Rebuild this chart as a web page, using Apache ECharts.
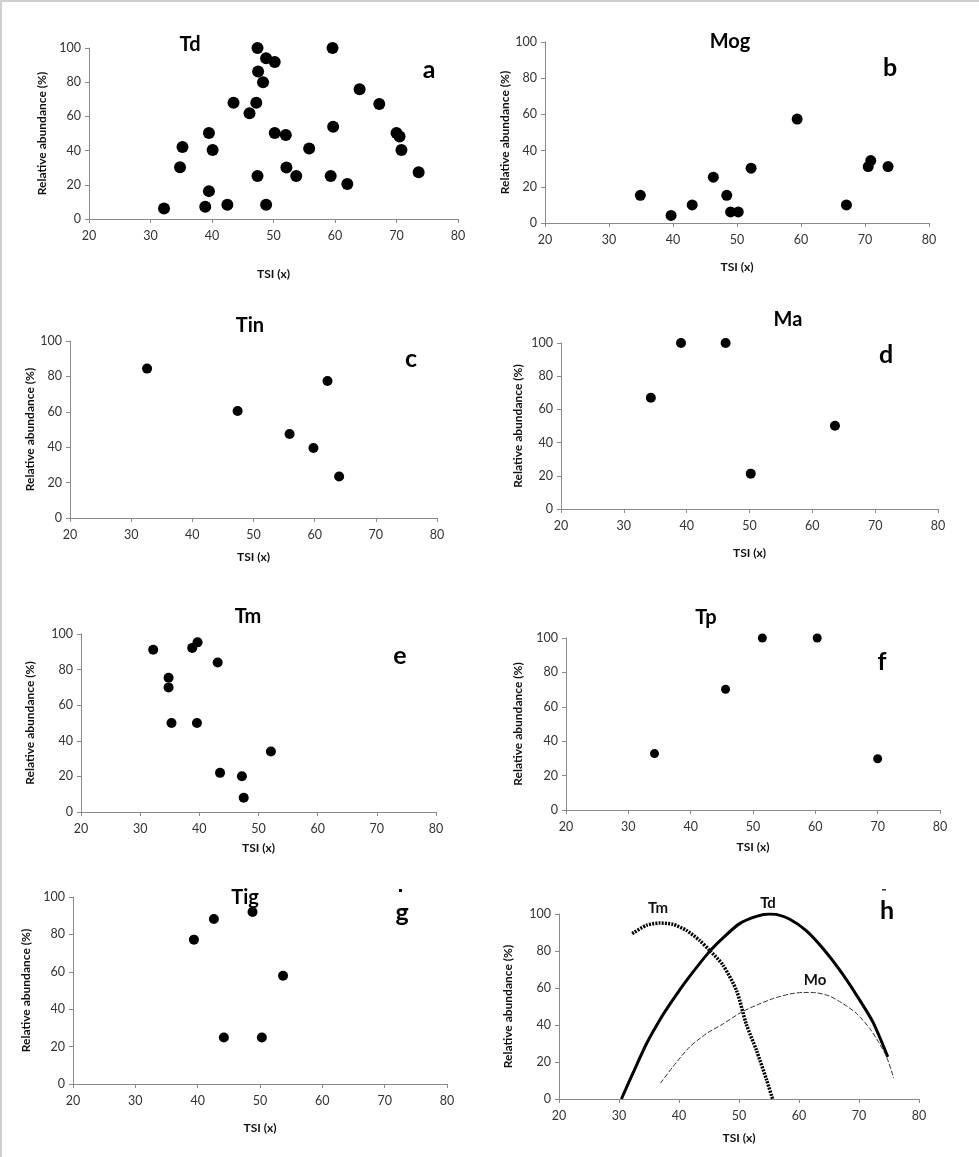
<!DOCTYPE html>
<html>
<head>
<meta charset="utf-8">
<script src="https://cdn.jsdelivr.net/npm/echarts@6/dist/echarts.min.js"></script>
<style>
  html, body { margin: 0; padding: 0; background: #fff; }
  #chart { width: 979px; height: 1157px; }
</style>
</head>
<body>
<div id="chart"></div>
<script>
// ---- data (x = TSI, y = relative abundance %) ----
const tdX = [32.2,34.8,35.2,38.9,39.5,39.5,40.1,42.5,43.5,46.1,47.2,47.4,47.5,47.4,48.3,48.8,48.8,50.2,50.2,52.0,52.1,53.7,55.8,59.3,59.6,59.7,62.0,64.0,67.2,70.0,70.5,70.8,73.6];
const tdY = [6.2,30.3,42.1,7.2,16.3,50.3,40.4,8.3,68,61.9,68,100,86.2,25.2,80,94,8.3,91.8,50.3,49.1,30.1,25.2,41.2,25.2,100,54,20.4,75.9,67.2,50.3,48.2,40.4,27.4];

const mogX = [34.9,39.7,43.0,46.3,48.4,49.0,50.2,52.2,59.4,67.1,70.5,70.9,73.6];
const mogY = [15.3,4.2,10,25.3,15.3,6.1,6.1,30.3,57.4,10,31.2,34.5,31.2];

const tinX = [32.6,47.4,55.9,59.8,62.1,64.0];
const tinY = [84.4,60.5,47.5,39.5,77.4,23.4];

const maX = [34.3,39.1,46.2,50.2,63.6];
const maY = [67,100,100,21.3,50.1];

const tmX = [32.2,34.8,34.8,35.3,38.8,39.7,39.6,43.1,43.5,47.2,47.5,52.1];
const tmY = [91.2,75.4,70,50,92.2,95.3,50,84,22,20.1,8,34];

const tpX = [34.2,45.6,51.5,60.3,70.0];
const tpY = [32.8,70.2,100,100,29.8];

const tigX = [39.4,42.6,44.2,48.8,50.3,53.7];
const tigY = [77.2,88.2,24.9,92,24.9,57.9];

// panel h: fitted response curves
const curveTdX = [30.4,32.3,34.6,37.3,39.6,41.8,45.1,47.3,50.1,52.9,55.1,56.2,58.4,61.2,64.0,66.8,69.6,72.3,74.8];
const curveTdY = [0,13.8,30,45.4,56.6,66.4,79.8,87,94.8,98.7,100,99.8,97.3,91,81.3,69.6,56.1,41.7,22.8];
const curveTmX = [32.2,34.6,36.8,39.0,41.2,43.4,45.1,47.3,49.6,51.2,52.9,54.6,55.6];
const curveTmY = [89.4,93.9,95.1,94.4,91.2,85.8,80.4,72.5,58.5,40.6,26.4,10.3,0];
const curveMoX = [36.9,39.0,41.8,44.6,47.3,50.5,52.9,55.7,58.4,60.7,62.9,65.1,67.3,69.6,71.8,73.4,74.6,75.8];
const curveMoY = [8.5,17.5,28.2,35.4,40.5,47.1,50.7,54.3,56.7,57.6,57.4,55.6,51.6,46.2,38.1,30,22.8,11.2];

const xTickLabels = ['20','30','40','50','60','70','80'];
const yTickLabels = ['0','20','40','60','80','100'];

const panelTitles = ['Td','Mog','Tin','Ma','Tm','Tp','Tig',''];
const panelLetters = ['a','b','c','d','e','f','g','h'];
const xName = 'TSI (x)';
const yName = 'Relative abundance (%)';

// ---- layout ----
const grids = [
  {left: 89,  top: 48,  width: 369, height: 171},
  {left: 545, top: 42,  width: 384, height: 181},
  {left: 70,  top: 341, width: 367, height: 177},
  {left: 561, top: 343, width: 377, height: 166},
  {left: 81,  top: 634, width: 355, height: 178},
  {left: 566, top: 638, width: 374, height: 172},
  {left: 73,  top: 897, width: 374, height: 187},
  {left: 559, top: 914, width: 360, height: 185}
];
const xNameGaps = [49, 38, 33, 38, 30, 31, 38, 33];
const yNameGaps = [41, 32, 32, 37, 45, 42, 41, 45];
const symbolSizes = [12, 11, 10, 10, 10, 9, 10];
const titlePos = [[190,45],[730,42],[250,326],[788,320],[248,617],[706,618],[245,898]];
const letterPos = [[429,70],[890,68],[411,359],[886,355],[400,656],[882,662],[402,913],[887,911]];

const FONT = 'Lato, "Open Sans", "Liberation Sans", sans-serif';
const axisGray = '#8a8a8a';

function zip(xs, ys) { return xs.map((x, i) => [x, ys[i]]); }

const xAxes = grids.map((g, i) => ({
  gridIndex: i, type: 'value', min: 20, max: 80, interval: 10,
  name: xName, nameLocation: 'middle', nameGap: xNameGaps[i],
  nameTextStyle: {fontFamily: FONT, fontSize: 12, fontWeight: 'bold', color: '#111'},
  axisLine: {show: true, lineStyle: {color: axisGray, width: 1}},
  axisTick: {show: true, inside: false, length: 4, lineStyle: {color: axisGray}},
  axisLabel: {fontFamily: FONT, fontSize: 12.5, color: '#333', margin: 10,
              formatter: v => xTickLabels[Math.round((v - 20) / 10)] || ''},
  splitLine: {show: false}
}));
const yAxes = grids.map((g, i) => ({
  gridIndex: i, type: 'value', min: 0, max: 100, interval: 20,
  name: yName, nameLocation: 'middle', nameGap: yNameGaps[i], nameRotate: 90,
  nameTextStyle: {fontFamily: FONT, fontSize: 12, fontWeight: 'bold', color: '#111'},
  axisLine: {show: true, lineStyle: {color: axisGray, width: 1}},
  axisTick: {show: true, inside: false, length: 4, lineStyle: {color: axisGray}},
  axisLabel: {fontFamily: FONT, fontSize: 12.5, color: '#333', margin: 8,
              formatter: v => yTickLabels[Math.round(v / 20)] || ''},
  splitLine: {show: false}
}));

const scatterSets = [zip(tdX,tdY), zip(mogX,mogY), zip(tinX,tinY), zip(maX,maY), zip(tmX,tmY), zip(tpX,tpY), zip(tigX,tigY)];
const series = scatterSets.map((d, i) => ({
  type: 'scatter', xAxisIndex: i, yAxisIndex: i, data: d,
  symbol: 'circle', symbolSize: symbolSizes[i],
  itemStyle: {color: '#000', opacity: 1}, silent: true
}));
series.push(
  {type: 'line', xAxisIndex: 7, yAxisIndex: 7, data: zip(curveTdX, curveTdY), smooth: 0.25,
   showSymbol: false, lineStyle: {color: '#000', width: 3}, silent: true},
  {type: 'line', xAxisIndex: 7, yAxisIndex: 7, data: zip(curveTmX, curveTmY), smooth: 0.25,
   showSymbol: false, lineStyle: {color: '#000', width: 3.5, type: [2, 1.2]}, silent: true},
  {type: 'line', xAxisIndex: 7, yAxisIndex: 7, data: zip(curveMoX, curveMoY), smooth: 0.25,
   showSymbol: false, lineStyle: {color: '#333', width: 1, type: [5, 2]}, silent: true}
);

const graphics = [];
// frame lines on top and left edges
graphics.push({type: 'line', shape: {x1: 0, y1: 1, x2: 979, y2: 1}, style: {stroke: '#cfcfcf', lineWidth: 2}, silent: true});
graphics.push({type: 'line', shape: {x1: 1, y1: 0, x2: 1, y2: 1157}, style: {stroke: '#cfcfcf', lineWidth: 2}, silent: true});
titlePos.forEach((p, i) => {
  graphics.push({type: 'text', x: p[0], y: p[1], silent: true,
    style: {text: panelTitles[i], fontFamily: FONT, fontSize: 20, fontWeight: 'bold', fill: '#000',
            textAlign: 'center', textVerticalAlign: 'middle'}});
});
letterPos.forEach((p, i) => {
  graphics.push({type: 'text', x: p[0], y: p[1], silent: true,
    style: {text: panelLetters[i], fontFamily: FONT, fontSize: 25, fontWeight: 'bold', fill: '#000',
            textAlign: 'center', textVerticalAlign: 'middle'}});
});
// curve labels in panel h
[['Tm', 658, 908], ['Td', 768, 903], ['Mo', 815, 980]].forEach(t => {
  graphics.push({type: 'text', x: t[1], y: t[2], silent: true,
    style: {text: t[0], fontFamily: FONT, fontSize: 15, fontWeight: 'bold', fill: '#111',
            textAlign: 'center', textVerticalAlign: 'middle'}});
});
// small stray marks above g and h
graphics.push({type: 'rect', shape: {x: 399, y: 889, width: 3, height: 3}, style: {fill: '#000'}, silent: true});
graphics.push({type: 'rect', shape: {x: 882, y: 889, width: 4, height: 1.5}, style: {fill: '#333'}, silent: true});

const chart = echarts.init(document.getElementById('chart'), null, {renderer: 'canvas'});
chart.setOption({
  backgroundColor: '#fff',
  animation: false,
  grid: grids.map(g => Object.assign({containLabel: false}, g)),
  xAxis: xAxes,
  yAxis: yAxes,
  series: series,
  graphic: graphics
});
</script>
</body>
</html>
